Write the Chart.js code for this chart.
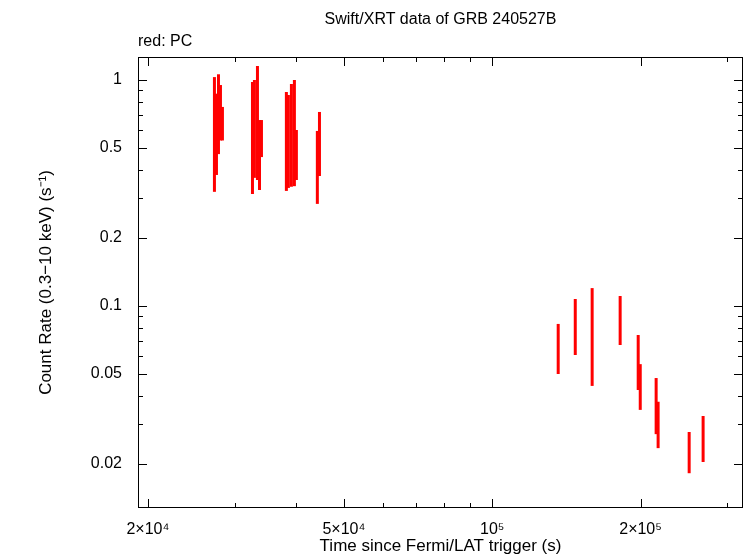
<!DOCTYPE html>
<html><head><meta charset="utf-8">
<script src="https://cdn.jsdelivr.net/npm/chart.js@4"></script>
<style>body{margin:0;background:#fff}#wrap{width:746px;height:558px}</style>
</head><body><div id="wrap"><canvas id="c"></canvas></div>
<script>
// PC mode points: time (s), rate, rate low, rate high
const times = [27300,27560,27820,28080,28340, 32610,32910,33380,33700,34010,
  38210,38570,39120,39670,40040, 44160,44600,
  136100,147400,159500,181800,197800,199700,215100,217100,251000,267900];
const rates = [0.57,0.57,0.70,0.71,0.64, 0.55,0.60,0.64,0.46,0.55,
  0.53,0.53,0.57,0.58,0.47, 0.41,0.52,
  0.0645,0.080,0.0732,0.0868,0.0577,0.0450,0.0377,0.0306,0.0231,0.0266];
const rateLo = [0.32,0.38,0.47,0.54,0.54, 0.313,0.369,0.361,0.326,0.456,
  0.323,0.333,0.337,0.339,0.361, 0.283,0.376,
  0.050,0.0607,0.0443,0.0672,0.0425,0.0347,0.0271,0.0235,0.0182,0.0204];
const rateHi = [1.03,0.87,1.06,0.95,0.76, 0.98,1.0,1.153,0.665,0.665,
  0.885,0.858,0.96,1.0,0.601, 0.595,0.722,
  0.0833,0.1074,0.120,0.1107,0.0744,0.0553,0.048,0.0377,0.0277,0.0326];
const xMajor = [20000,50000,100000,200000];
const xLabels = {20000:'2×10⁴',50000:'5×10⁴',100000:'10⁵',200000:'2×10⁵'};
const xMinor = [30000,40000,60000,70000,80000,90000,300000];
const yMajor = [0.02,0.05,0.1,0.2,0.5,1];
const yMinor = [0.03,0.04,0.06,0.07,0.08,0.09,0.3,0.4,0.6,0.7,0.8,0.9];

const pts = times.map((t,i)=>({x:t,y:rates[i],lo:rateLo[i],hi:rateHi[i]}));
const FONT = '"Liberation Sans", Arial, sans-serif';

const frame = {
  id:'frame',
  afterDatasetsDraw(ch){
    const {ctx,chartArea:a,scales:{x,y}} = ch;
    ctx.save();
    ctx.strokeStyle='red'; ctx.lineWidth=3;
    pts.forEach(p=>{
      const px=x.getPixelForValue(p.x);
      ctx.beginPath();
      ctx.moveTo(px,y.getPixelForValue(p.lo));
      ctx.lineTo(px,y.getPixelForValue(p.hi));
      ctx.stroke();
    });
    ctx.strokeStyle='#000'; ctx.lineWidth=1;
    ctx.strokeRect(a.left+0.5,a.top+0.5,a.right-a.left-1,a.bottom-a.top-1);
    ctx.beginPath();
    const tx=(v,l)=>{const px=Math.round(x.getPixelForValue(v))+0.5;
      ctx.moveTo(px,a.bottom);ctx.lineTo(px,a.bottom-l);ctx.moveTo(px,a.top);ctx.lineTo(px,a.top+l);};
    const ty=(v,l)=>{const py=Math.round(y.getPixelForValue(v))+0.5;
      ctx.moveTo(a.left,py);ctx.lineTo(a.left+l,py);ctx.moveTo(a.right,py);ctx.lineTo(a.right-l,py);};
    xMajor.forEach(v=>tx(v,9)); xMinor.forEach(v=>tx(v,5));
    yMajor.forEach(v=>ty(v,9)); yMinor.forEach(v=>ty(v,5));
    ctx.stroke();
    ctx.fillStyle='#000'; ctx.font='16px '+FONT;
    ctx.textAlign='center'; ctx.textBaseline='middle';
    ctx.fillText('Swift/XRT data of GRB 240527B',(a.left+a.right)/2,20);
    ctx.textAlign='left';
    ctx.fillText('red: PC',a.left,42);
    ctx.restore();
  }
};

new Chart(document.getElementById('c'),{
  type:'scatter',
  data:{datasets:[{data:pts,pointRadius:0,showLine:false,borderColor:'red'}]},
  options:{
    responsive:true,maintainAspectRatio:false,animation:false,
    layout:{padding:{top:57,right:3,left:0,bottom:0}},
    plugins:{legend:{display:false},tooltip:{enabled:false}},
    scales:{
      x:{type:'logarithmic',min:19100,max:322800,
        afterBuildTicks:s=>{s.ticks=xMajor.map(v=>({value:v}));},
        afterFit:s=>{s.height=50;},
        ticks:{color:'#000',font:{family:FONT,size:16},maxRotation:0,autoSkip:false,padding:4,
          callback:v=>xLabels[v]||''},
        grid:{display:false},border:{display:false},
        title:{display:true,text:'Time since Fermi/LAT trigger (s)',color:'#000',
          font:{family:FONT,size:17},padding:{top:0,bottom:1}}},
      y:{type:'logarithmic',min:0.01277,max:1.264,
        afterBuildTicks:s=>{s.ticks=yMajor.map(v=>({value:v}));},
        afterFit:s=>{s.width=138;},
        ticks:{color:'#000',font:{family:FONT,size:16},autoSkip:false,padding:8,
          callback:v=>String(v)},
        grid:{display:false},border:{display:false},
        title:{display:true,text:'Count Rate (0.3−10 keV) (s⁻¹)',color:'#000',
          font:{family:FONT,size:17},padding:{top:36,bottom:0}}}
    }
  },
  plugins:[frame]
});
</script></body></html>
